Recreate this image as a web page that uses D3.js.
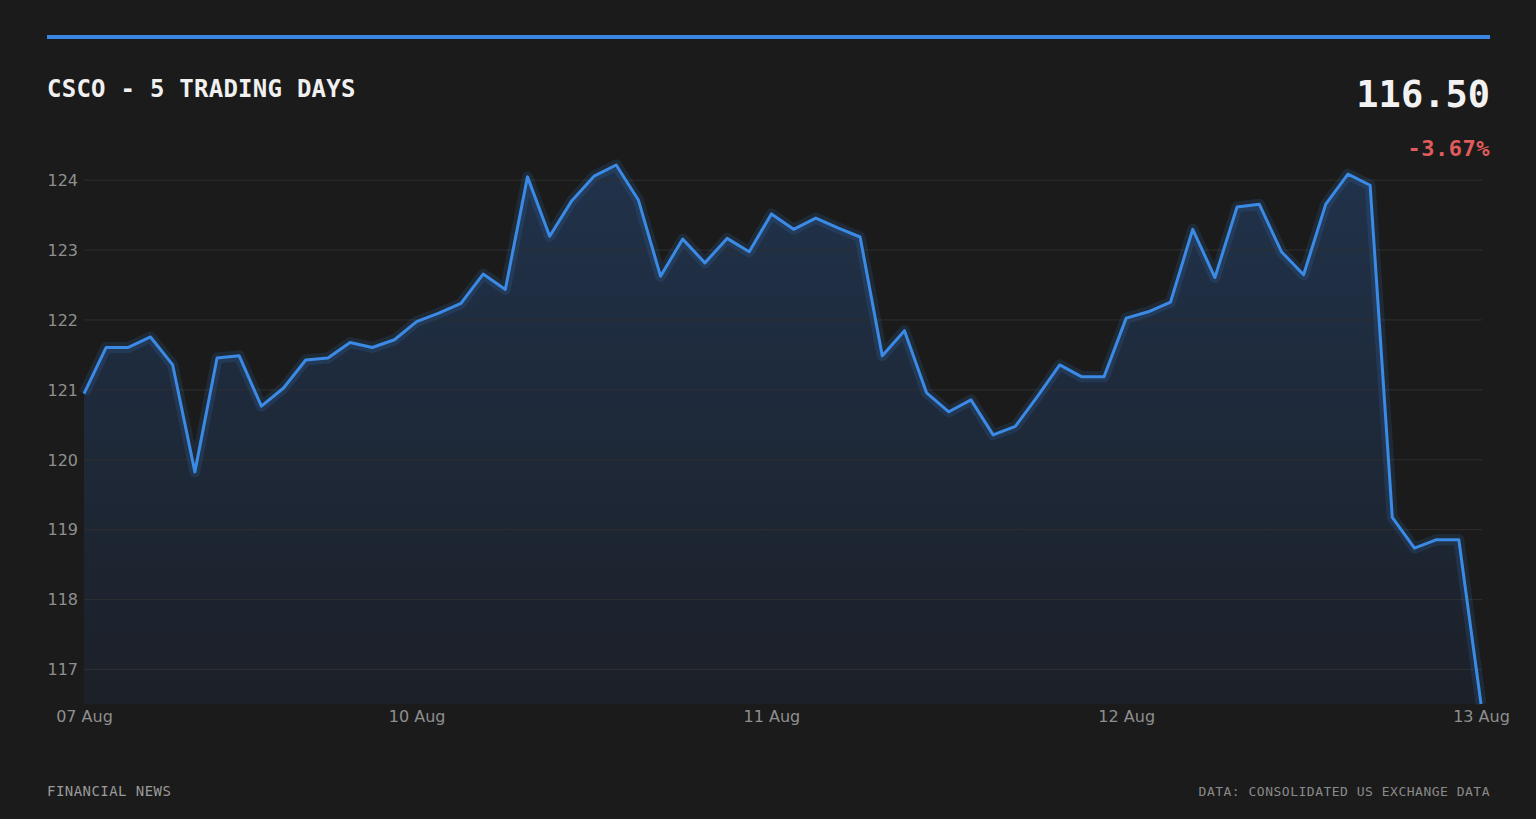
<!DOCTYPE html>
<html>
<head>
<meta charset="utf-8">
<script src="https://cdn.jsdelivr.net/npm/d3@7"></script>
<style>
  html, body { margin: 0; padding: 0; background: #1b1b1b; }
  svg { display: block; }
  .mono { font-family: "DejaVu Sans Mono", monospace; }
  .axis text { font-family: "DejaVu Sans", sans-serif; font-size: 16px; fill: #8f8f8f; }
</style>
</head>
<body>
<svg id="chart"></svg>
<script>
// CSCO closes, 64 intraday samples over 5 trading days
const prices = [
  120.94, 121.60, 121.60, 121.75, 121.35, 119.82, 121.45, 121.48,
  120.76, 121.02, 121.42, 121.45, 121.67, 121.60, 121.71, 121.97,
  122.09, 122.23, 122.65, 122.43, 124.04, 123.19, 123.70, 124.05,
  124.21, 123.71, 122.62, 123.15, 122.81, 123.16, 122.97, 123.51,
  123.29, 123.45, 123.31, 123.18, 121.48, 121.84, 120.95, 120.68,
  120.85, 120.35, 120.47, 120.90, 121.35, 121.18, 121.18, 122.02,
  122.11, 122.25, 123.29, 122.60, 123.61, 123.65, 122.97, 122.64,
  123.65, 124.08, 123.92, 119.17, 118.73, 118.85, 118.85, 116.50
];
const dayTickIndex = [0, 15, 31, 47, 63];
const dayTickLabels = ["07 Aug", "10 Aug", "11 Aug", "12 Aug", "13 Aug"];
const yTicks = [117, 118, 119, 120, 121, 122, 123, 124];

const title = "CSCO - 5 TRADING DAYS";
const lastPrice = "116.50";
const changePct = "-3.67%";
const sourceLeft = "FINANCIAL NEWS";
const sourceRight = "DATA: CONSOLIDATED US EXCHANGE DATA";

const W = 1536, H = 819;
const MARGIN = { LEFT: 84, RIGHT: 55, TOP: 165, BOTTOM: 115 };

const svg = d3.select("#chart").attr("width", W).attr("height", H);

svg.append("rect").attr("width", W).attr("height", H).attr("fill", "#1b1b1b");

// top accent bar
svg.append("line")
  .attr("x1", 47).attr("x2", 1490)
  .attr("y1", 37).attr("y2", 37)
  .attr("stroke", "#3a86e0").attr("stroke-width", 4);

// header
svg.append("text").attr("class", "mono")
  .attr("x", 47).attr("y", 97)
  .attr("font-size", 24).attr("font-weight", "bold")
  .attr("letter-spacing", 0.25)
  .attr("fill", "#f0f0f0")
  .text(title);

svg.append("text").attr("class", "mono")
  .attr("x", 1490).attr("y", 107)
  .attr("text-anchor", "end")
  .attr("font-size", 37).attr("font-weight", "bold")
  .attr("fill", "#f2f2f2")
  .text(lastPrice);

svg.append("text").attr("class", "mono")
  .attr("x", 1490).attr("y", 156)
  .attr("text-anchor", "end")
  .attr("font-size", 22).attr("font-weight", "bold")
  .attr("letter-spacing", 0.5)
  .attr("fill", "#e05c5c")
  .text(changePct);

// scales
const x = d3.scaleLinear()
  .domain([0, prices.length - 1])
  .range([MARGIN.LEFT, W - MARGIN.RIGHT]);

const y = d3.scaleLinear()
  .domain(d3.extent(prices))
  .range([704, MARGIN.TOP]);

// gradient for area
const defs = svg.append("defs");
const grad = defs.append("linearGradient")
  .attr("id", "areaGrad")
  .attr("x1", 0).attr("x2", 0).attr("y1", 0).attr("y2", 1);
grad.append("stop").attr("offset", "0%").attr("stop-color", "#20324a");
grad.append("stop").attr("offset", "100%").attr("stop-color", "#1c2028");

// grid lines + y labels
const yAxis = svg.append("g")
  .attr("class", "axis")
  .attr("transform", `translate(${MARGIN.LEFT},0)`)
  .call(d3.axisLeft(y)
    .tickValues(yTicks)
    .tickSize(-(W - MARGIN.RIGHT - MARGIN.LEFT + 1))
    .tickPadding(6)
    .tickFormat(d3.format("d")));
yAxis.select(".domain").remove();
yAxis.selectAll(".tick line").attr("stroke", "#2f2f2f").attr("stroke-width", 1);
yAxis.selectAll(".tick text").attr("dy", "0.36em");

// area + line
const area = d3.area()
  .x((d, i) => x(i))
  .y0(y.range()[0])
  .y1(d => y(d));

const line = d3.line()
  .x((d, i) => x(i))
  .y(d => y(d));

svg.append("path")
  .datum(prices)
  .attr("fill", "url(#areaGrad)")
  .attr("d", area);

// keep gridlines visible through the area
yAxis.raise();

// glow
svg.append("path")
  .datum(prices)
  .attr("fill", "none")
  .attr("stroke", "#3a86e0")
  .attr("stroke-opacity", 0.15)
  .attr("stroke-width", 11)
  .attr("stroke-linejoin", "round")
  .attr("d", line);

svg.append("path")
  .datum(prices)
  .attr("fill", "none")
  .attr("stroke", "#3b8ae6")
  .attr("stroke-width", 3)
  .attr("stroke-linejoin", "round")
  .attr("d", line);

// x axis labels
const xAxis = svg.append("g")
  .attr("class", "axis")
  .attr("transform", `translate(0,${704})`)
  .call(d3.axisBottom(x)
    .tickValues(dayTickIndex)
    .tickSize(0)
    .tickPadding(7)
    .tickFormat((d, i) => dayTickLabels[i]));
xAxis.select(".domain").remove();

// footer
svg.append("text").attr("class", "mono")
  .attr("x", 47).attr("y", 796)
  .attr("font-size", 14).attr("letter-spacing", 0.45)
  .attr("fill", "#9a9a9a")
  .text(sourceLeft);

svg.append("text").attr("class", "mono")
  .attr("x", 1490).attr("y", 796)
  .attr("text-anchor", "end")
  .attr("font-size", 13).attr("letter-spacing", 0.5)
  .attr("fill", "#8a8a8a")
  .text(sourceRight);
</script>
</body>
</html>
